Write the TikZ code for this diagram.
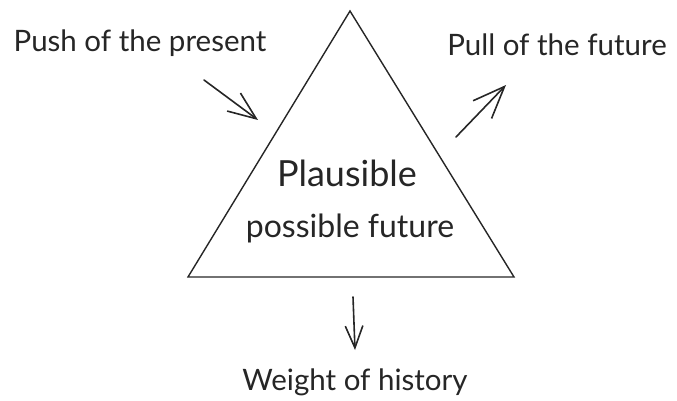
\documentclass[tikz,border=0pt]{standalone}
\usepackage{fontspec}
\setmainfont{Lato}
\usetikzlibrary{arrows.meta}
\tikzset{
  lbl/.style={inner sep=0pt, text=black!85},
  big/.style={lbl, font=\fontsize{36}{38}\selectfont},
  mid/.style={lbl, font=\fontsize{32}{34}\selectfont},
  small/.style={lbl, font=\fontsize{29.5}{31}\selectfont},
  arr/.style={line width=1.6pt, black!85, line cap=round, -{Straight Barb[length=#1,width=0.8*#1,line width=1.6pt]}},
  arr/.default=26pt,
  tri/.style={line width=1.4pt, black!85, line join=miter}
}
\begin{document}
\begin{tikzpicture}[x=1pt,y=-1pt]
\useasboundingbox (0,0) rectangle (677,401);
\coordinate (apex) at (350,11);
\coordinate (bl) at (188,277);
\coordinate (br) at (514,277);
\draw[tri] (apex) -- (bl) -- (br) -- cycle;
\node[small, anchor=base] (push) at (140,52) {Push of the present};
\node[small, anchor=base] (pull) at (557,56) {Pull of the future};
\node[big, anchor=base] (plaus) at (347,186) {Plausible};
\node[mid, anchor=base] (poss) at (350,237) {possible future};
\node[small, anchor=base] (weight) at (355,390) {Weight of history};
\coordinate (pushS) at (204,80);
\coordinate (pushE) at (258,120);
\coordinate (pullS) at (456,137);
\coordinate (pullE) at (506,85);
\coordinate (wS) at (353,297);
\coordinate (wE) at (355,350);
\draw[arr=28pt] (pushS) -- (pushE);
\draw[arr=32pt] (pullS) -- (pullE);
\draw[arr=22pt] (wS) -- (wE);
\end{tikzpicture}
\end{document}
